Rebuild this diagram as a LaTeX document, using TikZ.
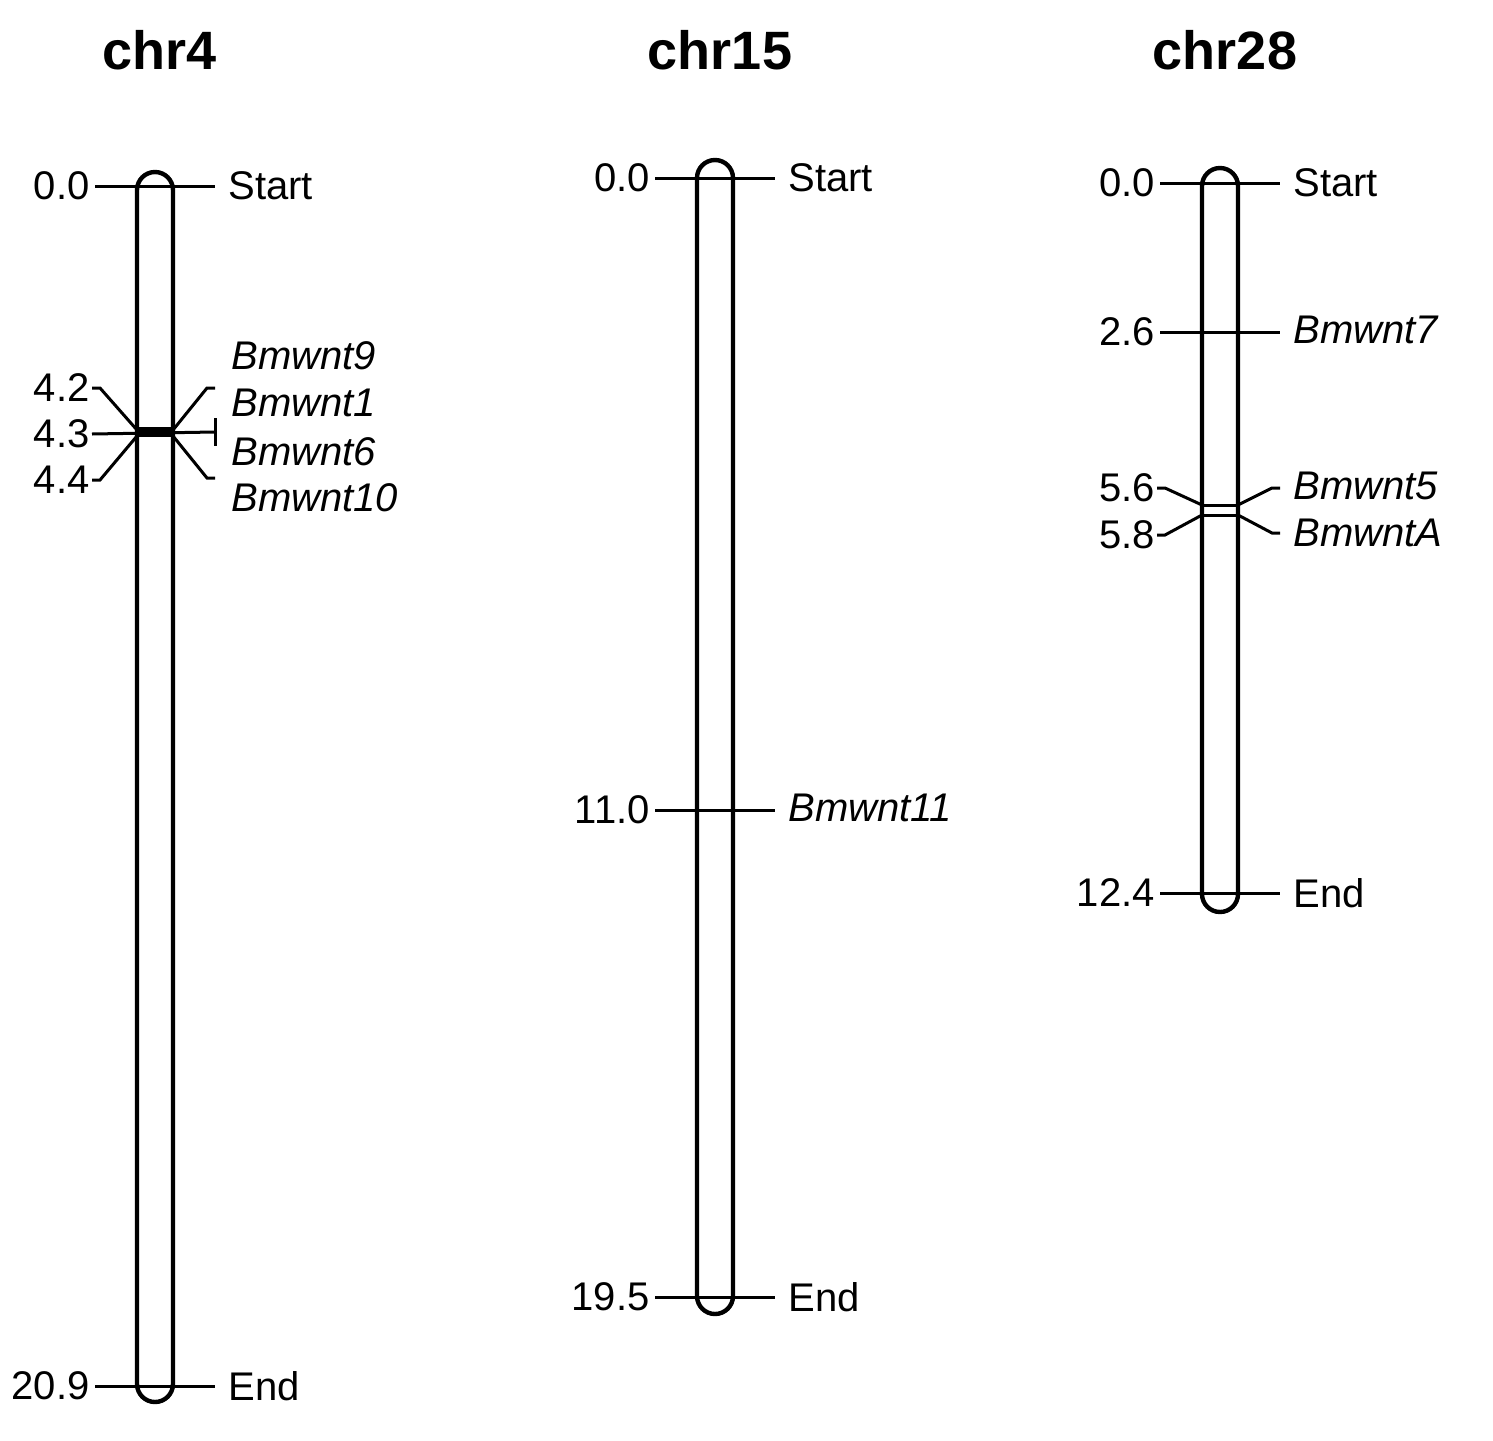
\documentclass[tikz,border=0pt]{standalone}
\usepackage{fontspec}
\setmainfont{Liberation Sans}
\begin{document}
\begin{tikzpicture}[x=0.5pt,y=-0.5pt,
  bar/.style={line width=2.2pt,rounded corners=9pt},
  tk/.style={line width=1.5pt},
  num/.style={anchor=east,inner sep=1pt,font=\fontsize{20}{22}\selectfont},
  lab/.style={anchor=west,inner sep=1pt,font=\fontsize{20}{22}\selectfont},
  gene/.style={lab,font=\fontsize{20}{22}\selectfont\itshape},
  ttl/.style={font=\fontsize{27}{30}\selectfont\bfseries}]
\useasboundingbox (0,0) rectangle (1493,1440);
% titles
\node[ttl] (t4) at (160,50) {chr4};
\node[ttl] (t15) at (720,50) {chr15};
\node[ttl] (t28) at (1225,50) {chr28};
% chr4
\draw[bar] (137,172) rectangle (173,1402);
\fill (137,427) rectangle (173,437);
\draw[tk] (95,186) -- (215,186);
\draw[tk] (95,1386) -- (215,1386);
\node[num] (a0) at (92,186) {0.0};
\node[lab] (as) at (226,186) {Start};
\node[num] (a20) at (92,1386) {20.9};
\node[lab] (ae) at (226,1386) {End};
\node[num] (a42) at (92,388) {4.2};
\node[num] (a43) at (92,434) {4.3};
\node[num] (a44) at (92,480) {4.4};
\draw[tk] (a42.east) -- ++(8,0) -- (137,430);
\draw[tk] (a43.east) -- (215,432);
\draw[tk] (a44.east) -- ++(8,0) -- (137,436);
\draw[tk] (215,418) -- (215,446);
\draw[tk] (173,430) -- (207,388) -- (215,388);
\draw[tk] (173,436) -- (207,478) -- (215,478);
\node[gene] (g9) at (229,356) {Bmwnt9};
\node[gene] (g1) at (229,403) {Bmwnt1};
\node[gene] (g6) at (229,452) {Bmwnt6};
\node[gene] (g10) at (229,498) {Bmwnt10};
% chr15
\draw[bar] (697,160) rectangle (733,1314);
\draw[tk] (655,178) -- (775,178);
\draw[tk] (655,810) -- (775,810);
\draw[tk] (655,1297) -- (775,1297);
\node[num] (b0) at (652,178) {0.0};
\node[lab] (bs) at (786,178) {Start};
\node[num] (b11) at (652,810) {11.0};
\node[gene] (g11) at (786,808) {Bmwnt11};
\node[num] (b19) at (652,1297) {19.5};
\node[lab] (be) at (786,1297) {End};
% chr28
\draw[bar] (1202,168) rectangle (1238,912);
\draw[tk] (1160,183) -- (1280,183);
\draw[tk] (1160,332) -- (1280,332);
\draw[tk] (1160,893) -- (1280,893);
\draw[tk] (1202,505) -- (1238,505);
\draw[tk] (1202,515) -- (1238,515);
\node[num] (c0) at (1157,183) {0.0};
\node[lab] (cs) at (1291,183) {Start};
\node[num] (c26) at (1157,332) {2.6};
\node[gene] (g7) at (1291,330) {Bmwnt7};
\node[num] (c12) at (1157,893) {12.4};
\node[lab] (ce) at (1291,893) {End};
\node[num] (c56) at (1157,488) {5.6};
\node[num] (c58) at (1157,535) {5.8};
\node[gene] (g5) at (1291,486) {Bmwnt5};
\node[gene] (gA) at (1291,533) {BmwntA};
\draw[tk] (c56.east) -- ++(8,0) -- (1202,505);
\draw[tk] (c58.east) -- ++(8,0) -- (1202,515);
\draw[tk] (1238,505) -- (1272,488) -- (1280,488);
\draw[tk] (1238,515) -- (1272,533) -- (1280,533);
\end{tikzpicture}
\end{document}
